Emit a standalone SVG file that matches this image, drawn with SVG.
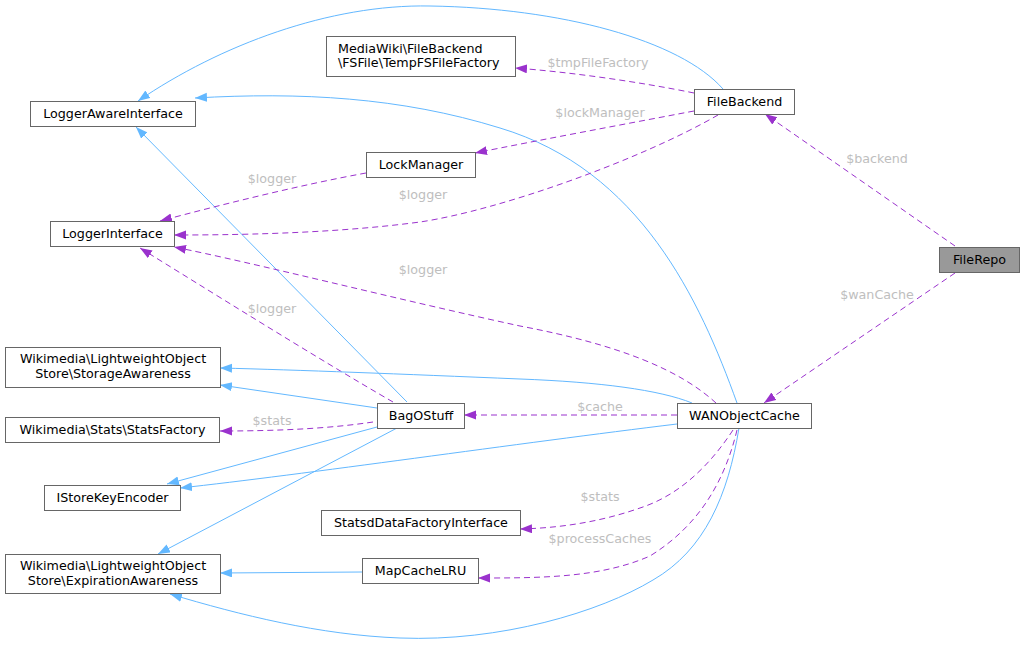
<svg xmlns="http://www.w3.org/2000/svg" width="1024" height="645" viewBox="0 0 1024 645">
<style>
text{font-family:"DejaVu Sans",sans-serif;font-size:12.7px}
.n rect{fill:#fff;stroke:#666;stroke-width:1}
.n text{fill:#000;text-anchor:middle}
.lbl{fill:#bebebe;text-anchor:middle}
.inh{fill:none;stroke:#63b8ff;stroke-width:1}
.col{fill:none;stroke:#9a32cd;stroke-width:1;stroke-dasharray:6,4}
</style>
<defs>
<marker id="ab" markerUnits="userSpaceOnUse" markerWidth="13" markerHeight="10" refX="12" refY="4.5" orient="auto"><path d="M0,0 L12,4.5 L0,9 z" fill="#63b8ff"/></marker>
<marker id="ap" markerUnits="userSpaceOnUse" markerWidth="13" markerHeight="10" refX="12" refY="4.5" orient="auto"><path d="M0,0 L12,4.5 L0,9 z" fill="#9a32cd"/></marker>
</defs>
<rect width="1024" height="645" fill="#fff"/>
<g id="connectors">
<path class="inh" marker-end="url(#ab)" d="M723,89 C680,40 560,8 430,6 C330,4 220,45 138,101"/>
<path class="inh" marker-end="url(#ab)" d="M737,403 C700,300 640,170 500,128 C400,97 300,92 195,98"/>
<path class="inh" marker-end="url(#ab)" d="M407,402 L136,127"/>
<path class="col" marker-end="url(#ap)" d="M694,93 C640,82 570,72 515,68"/>
<path class="col" marker-end="url(#ap)" d="M694,111 C620,125 540,140 475,153"/>
<path class="col" marker-end="url(#ap)" d="M718,115 C640,160 500,210 420,222 C330,234 230,235 174,235"/>
<path class="col" marker-end="url(#ap)" d="M366,173 C300,185 220,205 160,221"/>
<path class="col" marker-end="url(#ap)" d="M716,403 C680,370 620,345 520,326 C400,300 250,262 174,247"/>
<path class="col" marker-end="url(#ap)" d="M393,402 C320,360 200,285 140,248"/>
<path class="inh" marker-end="url(#ab)" d="M692,403 C660,390 600,382 520,379 C400,374 300,370 220,368"/>
<path class="inh" marker-end="url(#ab)" d="M377,408 L220,385"/>
<path class="col" marker-end="url(#ap)" d="M373,422 C320,430 260,431 220,431"/>
<path class="col" marker-end="url(#ap)" d="M677,415 L464,415"/>
<path class="inh" marker-end="url(#ab)" d="M377,427 L167,484"/>
<path class="inh" marker-end="url(#ab)" d="M677,424 C520,443 300,475 180,488"/>
<path class="inh" marker-end="url(#ab)" d="M397,428 L158,554"/>
<path class="inh" marker-end="url(#ab)" d="M362,572 L220,573"/>
<path class="inh" marker-end="url(#ab)" d="M739,428 C728,495 705,550 653,580 C600,612 500,642 400,638 C320,635 240,615 170,594"/>
<path class="col" marker-end="url(#ap)" d="M733,430 C710,465 680,495 640,508 C600,522 560,528 520,529"/>
<path class="col" marker-end="url(#ap)" d="M737,430 C725,480 700,525 650,556 C600,578 540,578 478,578"/>
<path class="col" marker-end="url(#ap)" d="M955,246 L765,114"/>
<path class="col" marker-end="url(#ap)" d="M955,273 L764,403"/>
<text class="lbl" x="598" y="67">$tmpFileFactory</text>
<text class="lbl" x="600" y="117">$lockManager</text>
<text class="lbl" x="877" y="163">$backend</text>
<text class="lbl" x="272" y="183">$logger</text>
<text class="lbl" x="423" y="199">$logger</text>
<text class="lbl" x="423" y="274">$logger</text>
<text class="lbl" x="272" y="313">$logger</text>
<text class="lbl" x="877" y="299">$wanCache</text>
<text class="lbl" x="272" y="425">$stats</text>
<text class="lbl" x="600" y="411">$cache</text>
<text class="lbl" x="600" y="501">$stats</text>
<text class="lbl" x="600" y="543">$processCaches</text>
</g>
<g id="LoggerAwareInterface" class="n"><rect x="30.5" y="101.5" width="165" height="25"/><text x="113" y="118">LoggerAwareInterface</text></g>
<g id="TempFSFileFactory" class="n"><rect x="326.5" y="36.5" width="189" height="40"/><text x="338" y="53" style="text-anchor:start">MediaWiki\FileBackend</text><text x="338" y="67" style="text-anchor:start">\FSFile\TempFSFileFactory</text></g>
<g id="FileBackend" class="n"><rect x="694.5" y="89.5" width="100" height="25"/><text x="744.5" y="106">FileBackend</text></g>
<g id="LockManager" class="n"><rect x="366.5" y="152.5" width="109" height="25"/><text x="421" y="169">LockManager</text></g>
<g id="LoggerInterface" class="n"><rect x="50.5" y="221.5" width="124" height="25"/><text x="112.5" y="238">LoggerInterface</text></g>
<g id="FileRepo" class="n"><rect x="939.5" y="247.5" width="80" height="25" style="fill:#999"/><text x="979.5" y="264">FileRepo</text></g>
<g id="StorageAwareness" class="n"><rect x="5.5" y="347.5" width="215" height="40"/><text x="113" y="363">Wikimedia\LightweightObject</text><text x="113" y="378">Store\StorageAwareness</text></g>
<g id="StatsFactory" class="n"><rect x="5.5" y="417.5" width="214" height="25"/><text x="112.5" y="434">Wikimedia\Stats\StatsFactory</text></g>
<g id="IStoreKeyEncoder" class="n"><rect x="44.5" y="485.5" width="136" height="25"/><text x="112.5" y="502">IStoreKeyEncoder</text></g>
<g id="ExpirationAwareness" class="n"><rect x="5.5" y="554.5" width="215" height="39"/><text x="113" y="570">Wikimedia\LightweightObject</text><text x="113" y="585">Store\ExpirationAwareness</text></g>
<g id="BagOStuff" class="n"><rect x="377.5" y="403.5" width="87" height="25"/><text x="421" y="420">BagOStuff</text></g>
<g id="WANObjectCache" class="n"><rect x="677.5" y="403.5" width="134" height="25"/><text x="744.5" y="420">WANObjectCache</text></g>
<g id="StatsdDataFactoryInterface" class="n"><rect x="321.5" y="510.5" width="199" height="25"/><text x="421" y="527">StatsdDataFactoryInterface</text></g>
<g id="MapCacheLRU" class="n"><rect x="362.5" y="558.5" width="116" height="25"/><text x="420.5" y="575">MapCacheLRU</text></g>
</svg>
